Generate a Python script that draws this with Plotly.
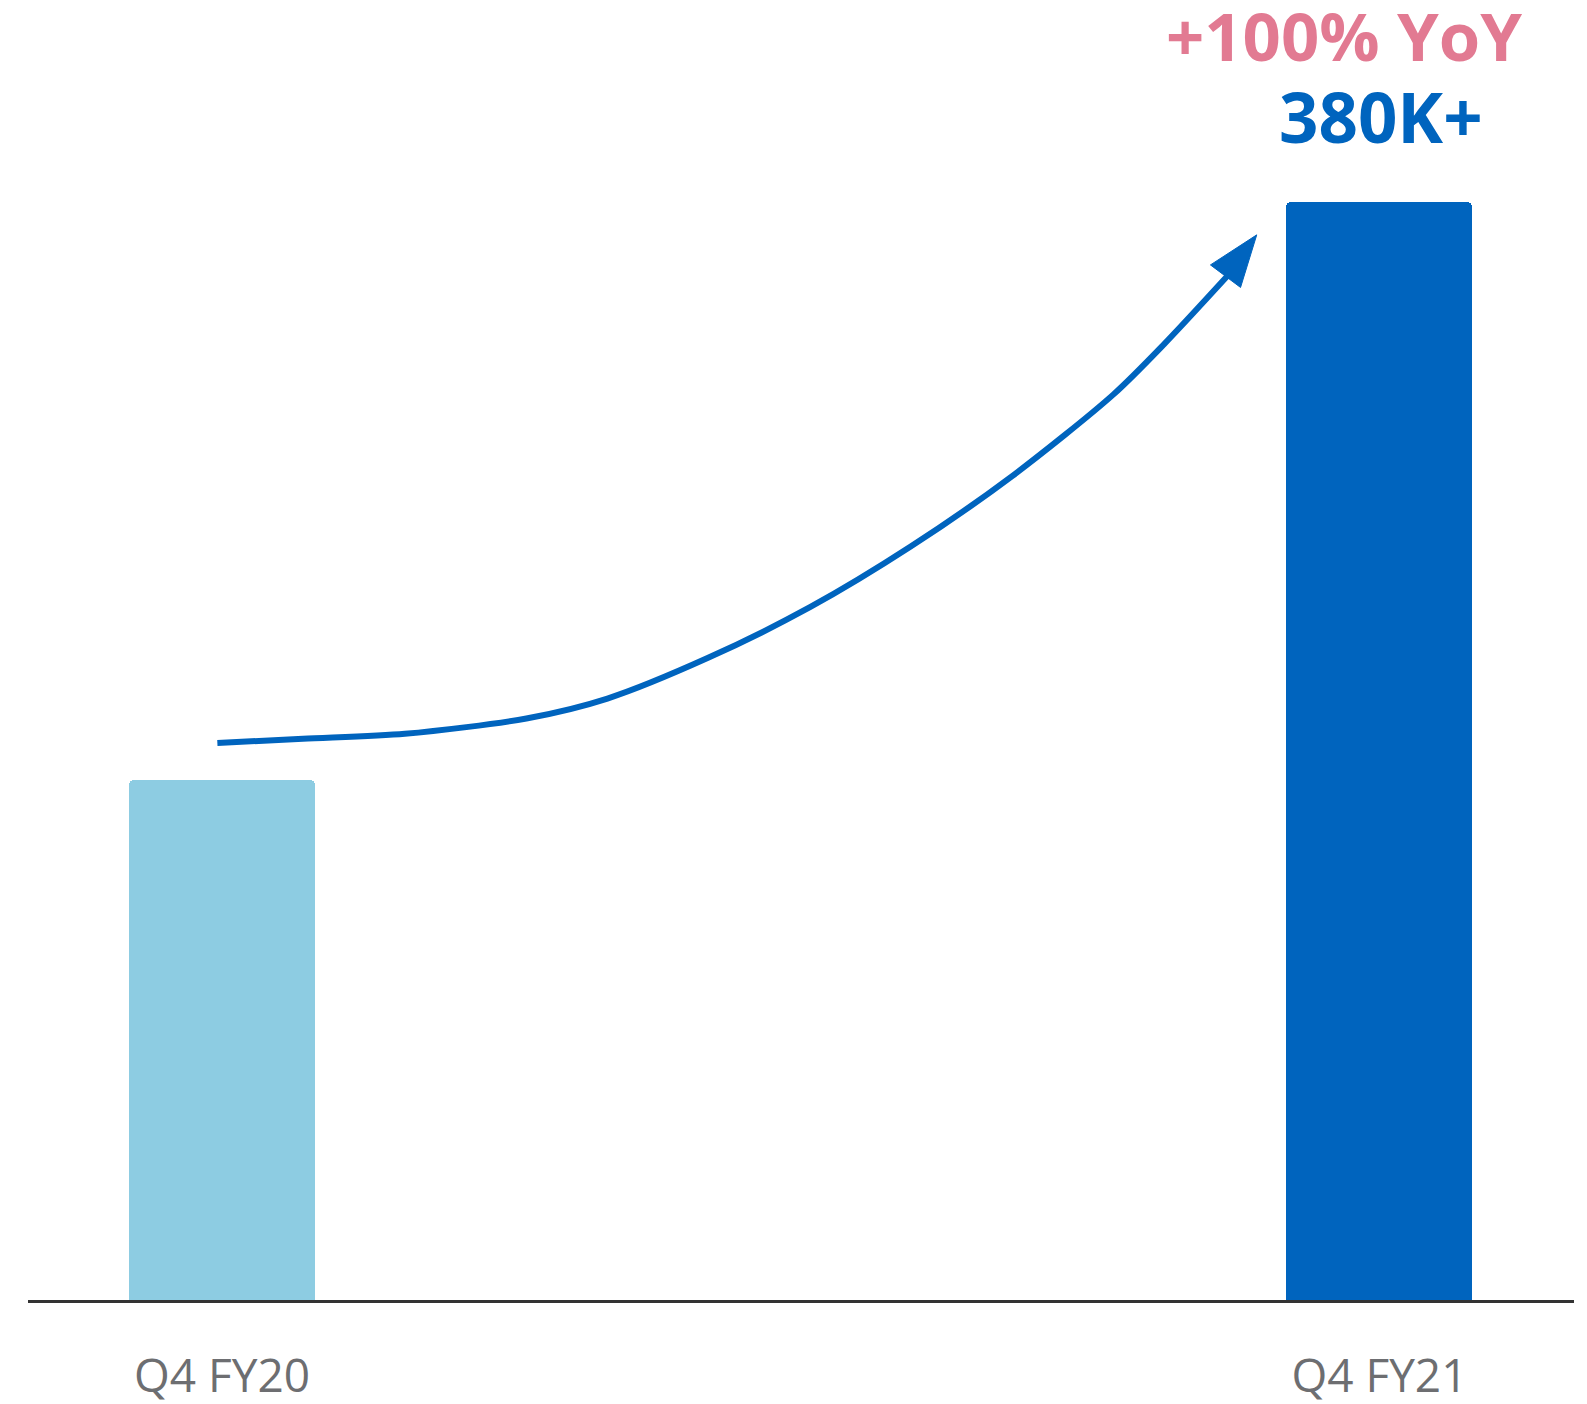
import plotly.graph_objects as go

categories = ["Q4 FY20", "Q4 FY21"]
values = [180, 380]
bar_colors = ["#8DCCE2", "#0064BE"]
growth_label = "+100% YoY"
value_label = "380K+"

# decorative growth arrow (data units: x in bar positions, y in thousands)
arrow_x = [-0.004, 0.070, 0.158, 0.263, 0.333, 0.420, 0.508, 0.595, 0.683, 0.770, 0.814, 0.871]
arrow_y = [192.8, 194.3, 196.0, 201.3, 208.2, 222.3, 239.8, 260.8, 285.3, 313.4, 330.9, 355.5]
head_x = [0.854, 0.894, 0.880, 0.854]
head_y = [358.3, 368.7, 350.5, 358.3]

xpos = list(range(len(categories)))

fig = go.Figure()
fig.add_trace(go.Bar(
    x=xpos, y=values, width=0.1607,
    marker=dict(color=bar_colors, cornerradius=5, line=dict(width=0)),
    hoverinfo="skip", showlegend=False,
))
fig.add_trace(go.Scatter(
    x=arrow_x, y=arrow_y, mode="lines",
    line=dict(color="#0064BE", width=6, shape="spline", smoothing=0.8),
    hoverinfo="skip", showlegend=False,
))
fig.add_trace(go.Scatter(
    x=head_x, y=head_y, mode="lines", fill="toself",
    fillcolor="#0064BE", line=dict(color="#0064BE", width=1),
    hoverinfo="skip", showlegend=False,
))

fig.add_annotation(x=1, y=values[1], xref="x", yref="y", text=value_label,
                   showarrow=False, yanchor="bottom", yshift=37, xshift=2,
                   font=dict(family="Open Sans", size=69, color="#0064BE", weight="bold"))
fig.add_annotation(x=1, y=values[1], xref="x", yref="y", text=growth_label,
                   showarrow=False, yanchor="bottom", yshift=119, xshift=-35,
                   font=dict(family="Open Sans", size=67, color="#E27A92", weight="bold"))

fig.update_layout(
    width=1587, height=1404,
    margin=dict(l=28, r=13, t=0, b=104, autoexpand=False),
    paper_bgcolor="white", plot_bgcolor="white",
    bargap=0,
    xaxis=dict(
        range=[-0.1676, 1.1681], tickvals=xpos, ticktext=categories,
        showgrid=False, zeroline=False, automargin=False,
        showline=True, linecolor="#333333", linewidth=3,
        ticks="", ticklabelstandoff=34,
        tickfont=dict(family="Open Sans", size=46, color="#6D6E71"),
        fixedrange=True,
    ),
    yaxis=dict(range=[0, 450], visible=False, fixedrange=True, automargin=False),
)

fig.write_html(
    "out.html",
    config={"displayModeBar": False},
    post_script="document.body.style.margin='0';document.body.style.overflow='hidden';",
)
